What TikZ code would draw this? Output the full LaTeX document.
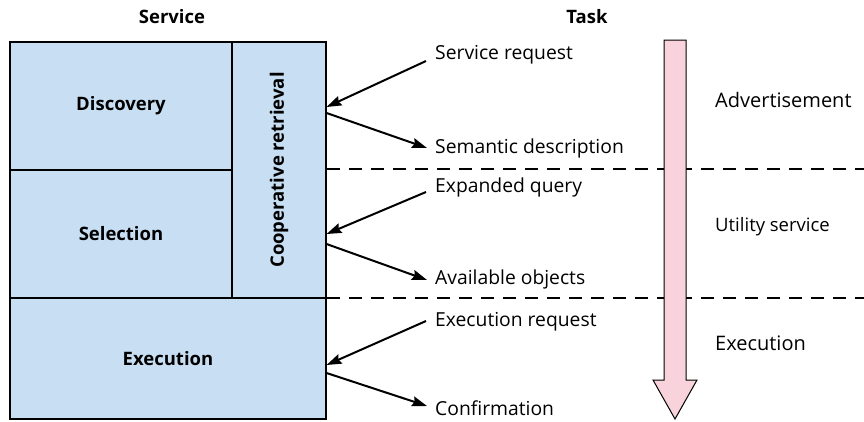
\documentclass[tikz,border=0pt]{standalone}
\usepackage{fontspec}
\setmainfont{Open Sans}
\usetikzlibrary{arrows.meta}
\definecolor{boxblue}{RGB}{200,223,243}
\definecolor{flowpink}{RGB}{248,211,219}
\tikzset{
  stagebox/.style={draw=black, line width=1.1pt, fill=boxblue, inner sep=0pt},
  stagetext/.style={font=\fontsize{18.5}{21}\selectfont\bfseries},
  msg/.style={anchor=west, inner sep=0pt, font=\fontsize{19.3}{22}\selectfont},
  phase/.style={anchor=west, inner sep=0pt, font=\fontsize{20}{23}\selectfont},
  heading/.style={inner sep=0pt, font=\fontsize{18.5}{21}\selectfont\bfseries},
  flow/.style={line width=2pt, -{Stealth[length=15pt,width=10pt,inset=2pt]}},
  divider/.style={line width=2pt, dash pattern=on 13pt off 9pt},
}
\begin{document}
\begin{tikzpicture}[x=1pt,y=-1pt]
\useasboundingbox (0,0) rectangle (864,421);

% column headings
\node[heading] (hservice) at (172,17) {Service};
\node[heading] (htask) at (587,17) {Task};

% phase dividers
\draw[divider] (327,169) -- (864,169);
\draw[divider] (327,298) -- (864,298);

% service stages
\node[stagebox, minimum width=222pt, minimum height=128pt] (disc) at (121,106) {};
\node[stagetext] at (disc.center) {Discovery};
\node[stagebox, minimum width=222pt, minimum height=128pt] (sel) at (121,234) {};
\node[stagetext] at (sel.center) {Selection};
\node[stagebox, minimum width=94pt, minimum height=256pt] (coop) at (279,170) {};
\node[stagetext, rotate=90] at (coop.center) {Cooperative retrieval};
\node[stagebox, minimum width=316pt, minimum height=121pt] (exec) at (168,358.5) {};
\node[stagetext] at (exec.center) {Execution};

% messages
\node[msg] (sreq) at (435,55) {Service request};
\node[msg] (sdesc) at (435,148) {Semantic description};
\node[msg] (equery) at (435,187) {Expanded query};
\node[msg] (avail) at (435,279) {Available objects};
\node[msg] (ereq) at (435,322) {Execution request};
\node[msg] (conf) at (435,408) {Confirmation};

\coordinate (a1) at (426,61);
\coordinate (a2) at (427,148);
\coordinate (a3) at (426,192);
\coordinate (a4) at (427,280);
\coordinate (a5) at (426,321);
\coordinate (a6) at (427,406);
\coordinate (c1) at (coop.east |- 0,107);
\coordinate (c2) at (coop.east |- 0,113);
\coordinate (c3) at (coop.east |- 0,234);
\coordinate (c4) at (coop.east |- 0,244);
\coordinate (c5) at (exec.east |- 0,365);
\coordinate (c6) at (exec.east |- 0,373);

\draw[flow] (a1) -- (c1);
\draw[flow] (c2) -- (a2);
\draw[flow] (a3) -- (c3);
\draw[flow] (c4) -- (a4);
\draw[flow] (a5) -- (c5);
\draw[flow] (c6) -- (a6);

% task flow arrow
\draw[line width=1pt, fill=flowpink]
  (664,40) -- (686,40) -- (686,380) -- (697,380) -- (675,419)
  -- (653,380) -- (664,380) -- cycle;

% phases
\node[phase] (padv) at (715,100) {Advertisement};
\node[phase, font=\fontsize{18.5}{21}\selectfont] (putil) at (715,227) {Utility service};
\node[phase] (pexec) at (715,343) {Execution};
\end{tikzpicture}
\end{document}
